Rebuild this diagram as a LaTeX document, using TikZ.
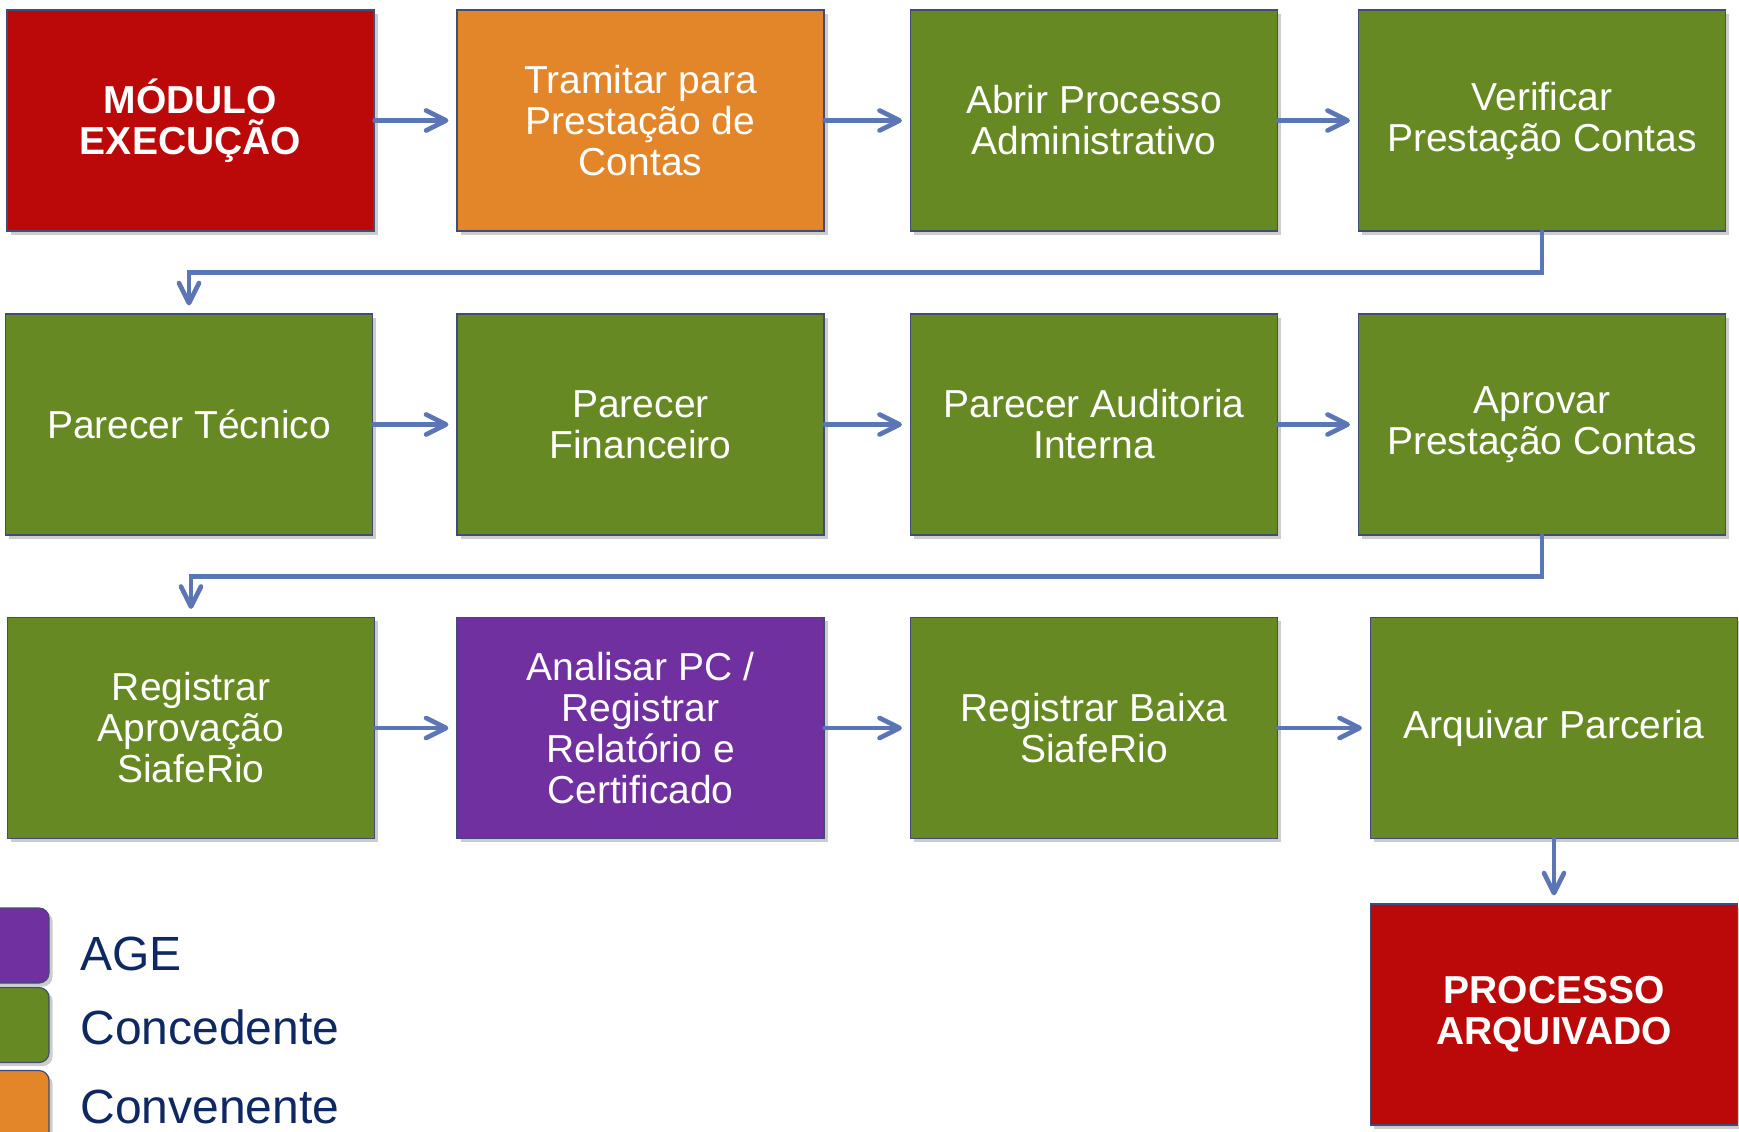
\documentclass[tikz,border=0pt]{standalone}
\usepackage{fontspec}
\setmainfont{Liberation Sans}
\usetikzlibrary{arrows.meta}
\usetikzlibrary{shadows}

\definecolor{modred}{RGB}{187,8,8}
\definecolor{convorange}{RGB}{227,134,41}
\definecolor{concgreen}{RGB}{103,137,36}
\definecolor{agepurple}{RGB}{112,48,160}
\definecolor{flowblue}{RGB}{91,117,181}
\definecolor{boxline}{RGB}{62,76,118}
\definecolor{keynavy}{RGB}{14,40,100}

\tikzset{
  stagebox/.style={draw=boxline, line width=0.6pt, minimum width=183.5pt, minimum height=110.5pt,
    inner sep=0pt, text=white, align=center, font=\fontsize{19.5}{20.5}\selectfont,
    drop shadow={shadow xshift=1.8pt, shadow yshift=-1.8pt, opacity=.4}},
  keybox/.style={draw=boxline, line width=0.6pt, rounded corners=5pt, minimum width=39pt,
    minimum height=37.5pt, drop shadow={shadow xshift=1.8pt, shadow yshift=-1.8pt, opacity=.4}},
  keytext/.style={anchor=base west, inner sep=0pt, text=keynavy, font=\fontsize{24}{28}\selectfont},
}

\begin{document}
\begin{tikzpicture}[x=0.5pt,y=-0.5pt,line cap=round,
    flow/.style={draw=flowblue, line width=2.35pt, shorten >=4pt,
      -{Straight Barb[length=10pt,width=10pt,line cap=round,line join=round]}}]
    \useasboundingbox (0,0) rectangle (1739,1131);

    % first row
    \node[stagebox, fill=modred, font=\fontsize{19.5}{20.5}\selectfont\bfseries] (modulo) at (190.5,120.5) {MÓDULO\\EXECUÇÃO};
    \node[stagebox, fill=convorange] (tramitar) at (640.5,120.5) {Tramitar para\\Prestação de\\Contas};
    \node[stagebox, fill=concgreen] (abrir) at (1094,120.5) {Abrir Processo\\Administrativo};
    \node[stagebox, fill=concgreen] (verificar) at (1542,120.5) {Verificar\\Prestação Contas};

    % second row
    \node[stagebox, fill=concgreen] (tecnico) at (189,424.5) {Parecer Técnico};
    \node[stagebox, fill=concgreen] (financeiro) at (640.5,424.5) {Parecer\\Financeiro};
    \node[stagebox, fill=concgreen] (auditoria) at (1094,424.5) {Parecer Auditoria\\Interna};
    \node[stagebox, fill=concgreen] (aprovar) at (1542,424.5) {Aprovar\\Prestação Contas};

    % third row
    \node[stagebox, fill=concgreen] (registrar) at (191,728) {Registrar\\Aprovação\\SiafeRio};
    \node[stagebox, fill=agepurple] (analisar) at (640.5,728) {Analisar PC /\\Registrar\\Relatório e\\Certificado};
    \node[stagebox, fill=concgreen] (baixa) at (1094,728) {Registrar Baixa\\SiafeRio};
    \node[stagebox, fill=concgreen] (arquivar) at (1554,728) {Arquivar Parceria};
    \node[stagebox, fill=modred, font=\fontsize{19.5}{20.5}\selectfont\bfseries] (arquivado) at (1554,1014.5) {PROCESSO\\ARQUIVADO};

    % legend
    \node[keybox, fill=agepurple] (keyage) at (10,945.5) {};
    \node[keybox, fill=concgreen] (keyconc) at (10,1025) {};
    \node[keybox, fill=convorange] (keyconv) at (10,1108) {};
    \node[keytext] (agetxt) at (80,970) {AGE};
    \node[keytext] (conctxt) at (80,1044) {Concedente};
    \node[keytext] (convtxt) at (80,1123) {Convenente};

    \draw[flow] (modulo) -- (tramitar);
    \draw[flow] (tramitar) -- (abrir);
    \draw[flow] (abrir) -- (verificar);
    \draw[flow] (verificar.south) -- ++(0,41) -| (tecnico.north);
    \draw[flow] (tecnico) -- (financeiro);
    \draw[flow] (financeiro) -- (auditoria);
    \draw[flow] (auditoria) -- (aprovar);
    \draw[flow] (aprovar.south) -- ++(0,41) -| (registrar.north);
    \draw[flow] (registrar) -- (analisar);
    \draw[flow] (analisar) -- (baixa);
    \draw[flow] (baixa) -- (arquivar);
    \draw[flow] (arquivar) -- (arquivado);
  \end{tikzpicture}
\end{document}
